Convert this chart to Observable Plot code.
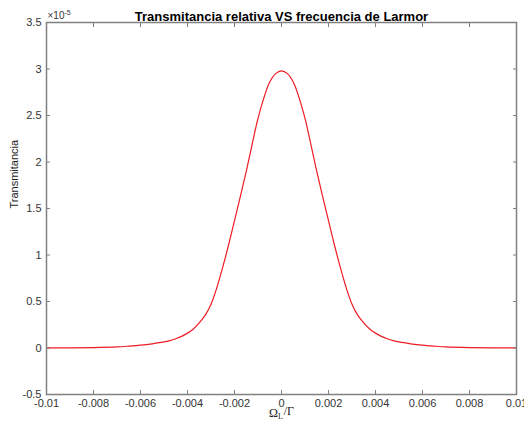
<!DOCTYPE html>
<html><head><meta charset="utf-8">
<script src="https://cdn.jsdelivr.net/npm/d3@7"></script>
<script src="https://cdn.jsdelivr.net/npm/@observablehq/plot@0.6"></script>
<style>body{margin:0;background:#fff}</style>
</head><body><div id="chart"></div>
<script>
const titleText = "Transmitancia relativa VS frecuencia de Larmor";
const yLabelText = "Transmitancia";
const xTicks = [-0.01, -0.008, -0.006, -0.004, -0.002, 0, 0.002, 0.004, 0.006, 0.008, 0.01];
const yTicks = [-0.5, 0, 0.5, 1, 1.5, 2, 2.5, 3, 3.5];
// Larmor frequency (Omega_L / Gamma)
const freq = [-0.01, -0.009, -0.008, -0.007, -0.0065, -0.006, -0.0055, -0.005, -0.00475, -0.0045, -0.00425, -0.004, -0.00375, -0.0035, -0.00325, -0.003, -0.00275, -0.0025, -0.00225, -0.002, -0.00175, -0.0015, -0.00125, -0.001, -0.00075, -0.0005, -0.00025, 0,
  0.00025, 0.0005, 0.00075, 0.001, 0.00125, 0.0015, 0.00175, 0.002, 0.00225, 0.0025, 0.00275, 0.003, 0.00325, 0.0035, 0.00375, 0.004, 0.00425, 0.0045, 0.00475, 0.005, 0.0055, 0.006, 0.0065, 0.007, 0.008, 0.009, 0.01];
// transmittance in units of 1e-5
const trans = [0.001, 0.002, 0.005, 0.012, 0.02, 0.03, 0.045, 0.065, 0.08, 0.10, 0.125, 0.16, 0.205, 0.27, 0.35, 0.47, 0.65, 0.87, 1.11, 1.37, 1.63, 1.90, 2.19, 2.47, 2.69, 2.86, 2.95, 2.98,
  2.95, 2.86, 2.69, 2.47, 2.19, 1.90, 1.63, 1.37, 1.11, 0.87, 0.65, 0.47, 0.35, 0.27, 0.205, 0.16, 0.125, 0.10, 0.08, 0.065, 0.045, 0.03, 0.02, 0.012, 0.005, 0.002, 0.001];

const data = freq.map((x, i) => ({x, y: trans[i]}));
const fmt = d => String(d);
const gray = "#808080";

const chart = Plot.plot({
  width: 524, height: 425,
  marginLeft: 46, marginRight: 8, marginTop: 22, marginBottom: 31,
  style: {fontFamily: "'Liberation Sans', Arial, sans-serif", fontSize: "11px", color: "#333", background: "#fff"},
  x: {domain: [-0.01, 0.01]},
  y: {domain: [-0.5, 3.5]},
  marks: [
    Plot.line(data, {x: "x", y: "y", stroke: "#ee1c24", strokeWidth: 1.2, curve: "catmull-rom"}),
    Plot.frame({stroke: gray, strokeWidth: 1.5}),
    Plot.axisX({anchor: "bottom", ticks: xTicks, tickSize: -4, tickPadding: 9, tickFormat: fmt, label: null, stroke: gray}),
    Plot.axisX({anchor: "top", ticks: xTicks, tickSize: -4, tickFormat: () => "", label: null, stroke: gray}),
    Plot.axisY({anchor: "left", ticks: yTicks, tickSize: -4, tickPadding: 9, tickFormat: fmt, label: null, stroke: gray}),
    Plot.axisY({anchor: "right", ticks: yTicks, tickSize: -4, tickFormat: () => "", label: null, stroke: gray}),
    Plot.text([titleText], {text: d => d, frameAnchor: "top", dy: -11, fontWeight: "bold", fontSize: 13, fill: "#000"}),
    Plot.text(["×10"], {text: d => d, frameAnchor: "top-left", dx: 1, dy: -4, lineAnchor: "bottom", textAnchor: "start", fontSize: 10, fill: "#333", className: "expo"}),
    Plot.text([yLabelText], {text: d => d, frameAnchor: "left", dx: -32, rotate: -90, fontSize: 11, fill: "#222"}),
    Plot.text(["Ω"], {text: d => d, frameAnchor: "bottom", dy: 22, fontSize: 12, fill: "#222", fontFamily: "'Liberation Serif', 'DejaVu Serif', serif", className: "xlab"})
  ]
});
document.getElementById("chart").append(chart);

// superscript exponent and subscript in axis label
d3.select(chart).selectAll(".expo text").each(function() {
  d3.select(this).append("tspan").attr("dy", "-0.45em").attr("font-size", "7px").text("-5");
});
d3.select(chart).selectAll(".xlab text").each(function() {
  const t = d3.select(this);
  t.append("tspan").attr("dy", "0.35em").attr("font-size", "8px").text("L");
  t.append("tspan").attr("dy", "-0.35em").attr("dx", "1").text("/Γ");
});
</script>
</body></html>
